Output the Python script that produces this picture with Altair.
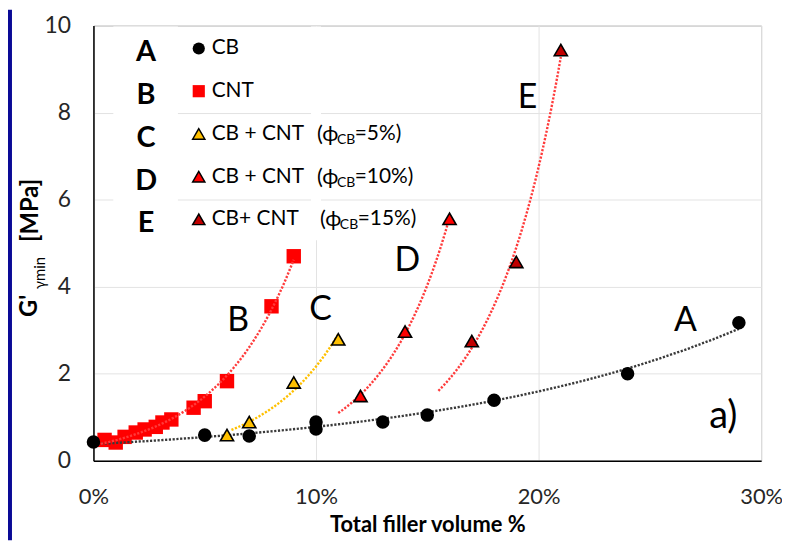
import altair as alt
import pandas as pd

# ---------------- data ----------------
cb_x = [0, 5, 7, 10, 10, 13, 15, 18, 24, 29]
cb_y = [0.43, 0.59, 0.57, 0.73, 0.89, 0.89, 1.05, 1.39, 2.0, 3.17]

cnt_x = [0.5, 1.0, 1.4, 1.9, 2.3, 2.8, 3.1, 3.5, 4.5, 5.0, 6.0, 8.0, 9.0]
cnt_y = [0.48, 0.42, 0.55, 0.65, 0.72, 0.78, 0.88, 0.95, 1.22, 1.37, 1.83, 3.55, 4.7]

c_x = [6, 7, 9, 11]
c_y = [0.59, 0.89, 1.8, 2.79]

d_x = [12, 14, 16]
d_y = [1.49, 2.97, 5.56]

e_x = [17, 19, 21]
e_y = [2.75, 4.57, 9.44]

# trend-line ranges (x extent of each fitted curve)
trend_extent_a = [0, 29]
trend_extent_b = [0, 9]
trend_extent_c = [6.2, 11]
trend_extent_d = [11, 16]
trend_extent_e = [15.5, 21]

# annotation letters placed in the plot (data coordinates)
note_text = ["A", "B", "C", "D", "E"]
note_x = [26.6, 6.5, 10.2, 14.1, 19.5]
note_y = [3.22, 3.22, 3.47, 4.59, 8.33]
panel_text = ["a)"]
panel_x = [28.3]
panel_y = [1.0]

legend_letters = ["A", "B", "C", "D", "E"]
legend_labels = ["CB", "CNT", "CB + CNT", "CB + CNT", "CB+ CNT"]
legend_phi = ["", "", "=5%)", "=10%)", "=15%)"]
legend_shapes = ["circle", "square", "triangle-up", "triangle-up", "triangle-up"]

x_ticks = [0, 10, 20, 30]
y_ticks = [0, 2, 4, 6, 8, 10]

# ---------------- styling ----------------
FONT = "Lato"
W, H = 672, 438
PAD_L, PAD_T = 86, 16

col_cb = "#000000"
col_cnt = "#ff0000"
col_c = "#ffc000"
col_d = "#ff0000"
col_e = "#c00000"
line_red = "#ff3b3b"

xs = alt.Scale(domain=[0, 30], nice=False, zero=False)
ys = alt.Scale(domain=[0, 10], nice=False)

x_axis = alt.Axis(
    values=x_ticks, labelExpr="datum.value + '%'", title="Total filler volume %",
    grid=True, gridColor="#e3e3e3", gridWidth=1, ticks=False, labelFlush=False,
    domainColor="#000000", domainWidth=1.5,
    labelFont=FONT, labelFontSize=22, labelColor="#262626", labelPadding=26,
    titleFont=FONT, titleFontSize=22, titleFontWeight="bold", titleColor="#000000",
    titlePadding=7,
)
y_axis = alt.Axis(
    values=y_ticks, title=None, grid=True, gridColor="#e3e3e3", gridWidth=1,
    ticks=False, labelFlush=False, domainColor="#000000", domainWidth=1.5,
    labelFont=FONT, labelFontSize=23, labelColor="#262626", labelPadding=23,
)


def X(field="x"):
    return alt.X(f"{field}:Q", scale=xs, axis=x_axis)


def Y(field="y"):
    return alt.Y(f"{field}:Q", scale=ys, axis=y_axis)


def frame(xv, yv):
    return pd.DataFrame({"x": xv, "y": yv})


def trend(xv, yv, extent, color):
    return (
        alt.Chart(frame(xv, yv))
        .transform_regression("x", "y", method="exp", extent=extent)
        .mark_line(color=color, strokeWidth=2.4, strokeDash=[2.2, 1.6])
        .encode(x=X(), y=Y())
    )


def points(xv, yv, shape, fill, stroke, size, sw):
    return (
        alt.Chart(frame(xv, yv))
        .mark_point(shape=shape, filled=True, fill=fill, stroke=stroke,
                    strokeWidth=sw, size=size, opacity=1, fillOpacity=1)
        .encode(x=X(), y=Y())
    )


one = pd.DataFrame({"k": [0]})

# white boxes hiding the gridlines behind the legend (as in the source)
mask1 = alt.Chart(one).mark_rect(fill="white").encode(
    x=alt.value(20), x2=alt.value(85), y=alt.value(1), y2=alt.value(216))
mask2 = alt.Chart(one).mark_rect(fill="white").encode(
    x=alt.value(219), x2=alt.value(229), y=alt.value(1), y2=alt.value(216))

# thin piece of the blue frame that fits on the canvas
blue = alt.Chart(one).mark_rect(fill="#0a0a96").encode(
    x=alt.value(-PAD_L), x2=alt.value(-PAD_L + 4), y=alt.value(-PAD_T), y2=alt.value(H + 80))

squares = points(cnt_x, cnt_y, "square", col_cnt, col_cnt, 210, 0)
circles = points(cb_x, cb_y, "circle", col_cb, col_cb, 185, 0)
tri_c = points(c_x, c_y, "triangle-up", col_c, "#000000", 175, 1.6)
tri_d = points(d_x, d_y, "triangle-up", col_d, "#000000", 175, 1.6)
tri_e = points(e_x, e_y, "triangle-up", col_e, "#000000", 175, 1.6)

tr_a = trend(cb_x, cb_y, trend_extent_a, "#3a3a3a")
tr_b = trend(cnt_x, cnt_y, trend_extent_b, line_red)
tr_c = trend(c_x, c_y, trend_extent_c, col_c)
tr_d = trend(d_x, d_y, trend_extent_d, line_red)
tr_e = trend(e_x, e_y, trend_extent_e, line_red)

notes = alt.Chart(pd.DataFrame({"x": note_x, "y": note_y, "t": note_text})).mark_text(
    font=FONT, fontSize=34, color="#000000", align="center", baseline="middle"
).encode(x=X(), y=Y(), text="t:N")

panel = alt.Chart(pd.DataFrame({"x": panel_x, "y": panel_y, "t": panel_text})).mark_text(
    font=FONT, fontSize=38, color="#000000", align="center", baseline="middle"
).encode(x=X(), y=Y(), text="t:N")

# ---------------- legend (built from the lists above) ----------------
fills = [col_cb, col_cnt, col_c, col_d, col_e]
strokes = [col_cb, col_cnt, "#000000", "#000000", "#000000"]
rows = []
for i in range(len(legend_letters)):
    shift = 3 if i == 4 else 0
    rows.append({
        "letter": legend_letters[i], "label": legend_labels[i],
        "phi_open": "(\u03d5" if legend_phi[i] else "",
        "sub": "CB" if legend_phi[i] else "", "phi": legend_phi[i],
        "shape": legend_shapes[i], "fill": fills[i], "stroke": strokes[i],
        "sw": 0 if i < 2 else 1.5,
        "ysym": 23 + 43 * i, "ylet": 27 + 43 * i, "ysub": 29 + 43 * i,
        "xsym": 106, "xlet": 53, "xlab": 119,
        "xopen": 225 + shift, "xsub": 245 + shift, "xphi": 263 + shift,
    })
leg = pd.DataFrame(rows)

leg_sym = alt.Chart(leg).mark_point(filled=True, size=150, opacity=1).encode(
    x=alt.X("xsym:Q", scale=None), y=alt.Y("ysym:Q", scale=None),
    shape=alt.Shape("shape:N", scale=None),
    fill=alt.Fill("fill:N", scale=None), stroke=alt.Stroke("stroke:N", scale=None),
    strokeWidth=alt.StrokeWidth("sw:Q", scale=None),
)
leg_let = alt.Chart(leg).mark_text(font=FONT, fontSize=29, fontWeight="bold", color="#000000",
                                   align="center", baseline="middle").encode(
    x=alt.X("xlet:Q", scale=None), y=alt.Y("ylet:Q", scale=None), text="letter:N")
leg_lab = alt.Chart(leg).mark_text(font=FONT, fontSize=21, color="#000000",
                                   align="left", baseline="middle").encode(
    x=alt.X("xlab:Q", scale=None), y=alt.Y("ysym:Q", scale=None), text="label:N")
leg_open = alt.Chart(leg).mark_text(font=FONT, fontSize=22, color="#000000",
                                    align="left", baseline="middle").encode(
    x=alt.X("xopen:Q", scale=None), y=alt.Y("ysym:Q", scale=None), text="phi_open:N")
leg_sub = alt.Chart(leg).mark_text(font=FONT, fontSize=14, color="#000000",
                                   align="left", baseline="middle").encode(
    x=alt.X("xsub:Q", scale=None), y=alt.Y("ysub:Q", scale=None), text="sub:N")
leg_phi = alt.Chart(leg).mark_text(font=FONT, fontSize=21, color="#000000",
                                   align="left", baseline="middle").encode(
    x=alt.X("xphi:Q", scale=None), y=alt.Y("ysym:Q", scale=None), text="phi:N")

# ---------------- y-axis title with subscript ----------------
ytitle_main = alt.Chart(pd.DataFrame({"t": ["G'"]})).mark_text(
    font=FONT, fontSize=24, fontWeight="bold", angle=270, align="center", baseline="middle",
    color="#000000").encode(x=alt.value(-64), y=alt.value(282), text="t:N")
ytitle_sub = alt.Chart(pd.DataFrame({"t": ["\u03b3min"]})).mark_text(
    font=FONT, fontSize=15, angle=270, align="center", baseline="middle",
    color="#000000").encode(x=alt.value(-54), y=alt.value(249), text="t:N")
ytitle_unit = alt.Chart(pd.DataFrame({"t": ["[MPa]"]})).mark_text(
    font=FONT, fontSize=24, fontWeight="bold", angle=270, align="center", baseline="middle",
    color="#000000").encode(x=alt.value(-63), y=alt.value(186), text="t:N")

chart = alt.layer(
    mask1, mask2, squares, tr_a, tr_b, tr_c, tr_d, tr_e,
    circles, tri_c, tri_d, tri_e, notes, panel,
    leg_sym, leg_let, leg_lab, leg_open, leg_sub, leg_phi,
    ytitle_main, ytitle_sub, ytitle_unit, blue,
).properties(
    width=W, height=H,
    autosize=alt.AutoSizeParams(type="none"),
    padding={"left": PAD_L, "top": PAD_T, "right": 21, "bottom": 80},
    background="white",
).configure_view(stroke="#a0a0a0", strokeWidth=1)

chart.save("out.html", embed_options={"renderer": "svg", "actions": False})
